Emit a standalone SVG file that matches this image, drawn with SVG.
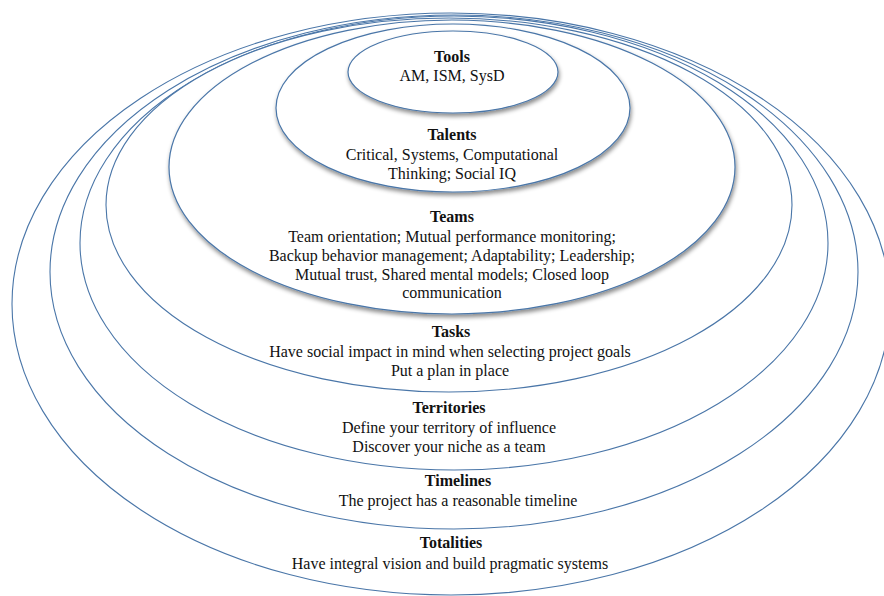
<svg xmlns="http://www.w3.org/2000/svg" width="884" height="596" viewBox="0 0 884 596">
  <defs>
    <filter id="shadow" x="-10%" y="-10%" width="120%" height="130%">
      <feDropShadow dx="1" dy="3" stdDeviation="2" flood-color="#000" flood-opacity="0.45"/>
    </filter>
  </defs>
  <style>
    .ring { fill: #fff; stroke: #4a76a8; stroke-width: 1.1; }
    .core { fill: #fff; stroke: #4a76a8; stroke-width: 1.2; filter: url(#shadow); }
    text { font-family: "Liberation Serif", "Times New Roman", serif; font-size: 16px; fill: #111; text-anchor: middle; }
    .title { font-weight: bold; }
  </style>
  <rect width="884" height="596" fill="#fff"/>

  <!-- outer rings, largest first -->
  <g id="totalities">
    <ellipse class="ring" cx="451" cy="304" rx="439" ry="291"/>
    <text class="title" x="451" y="548">Totalities</text>
    <text x="450" y="569">Have integral vision and build pragmatic systems</text>
  </g>
  <g id="timelines">
    <ellipse class="ring" cx="454" cy="272" rx="404" ry="257"/>
    <text class="title" x="458" y="486">Timelines</text>
    <text x="458" y="506">The project has a reasonable timeline</text>
  </g>
  <g id="territories">
    <ellipse class="ring" cx="454" cy="243" rx="374" ry="227"/>
    <text class="title" x="449" y="413">Territories</text>
    <text x="449" y="433">Define your territory of influence</text>
    <text x="449" y="452">Discover your niche as a team</text>
  </g>
  <g id="tasks">
    <ellipse class="ring" cx="449" cy="205" rx="343" ry="187"/>
    <text class="title" x="451" y="337">Tasks</text>
    <text x="450" y="357">Have social impact in mind when selecting project goals</text>
    <text x="450" y="376">Put a plan in place</text>
  </g>

  <!-- inner shaded rings -->
  <g id="teams">
    <ellipse class="core" cx="452" cy="167" rx="283" ry="147"/>
    <text class="title" x="452" y="222">Teams</text>
    <text x="452" y="242">Team orientation; Mutual performance monitoring;</text>
    <text x="452" y="261">Backup behavior management; Adaptability; Leadership;</text>
    <text x="452" y="280">Mutual trust, Shared mental models; Closed loop</text>
    <text x="452" y="298">communication</text>
  </g>
  <g id="talents">
    <ellipse class="core" cx="453" cy="108" rx="177" ry="84"/>
    <text class="title" x="452" y="140">Talents</text>
    <text x="452" y="160">Critical, Systems, Computational</text>
    <text x="452" y="179">Thinking; Social IQ</text>
  </g>
  <g id="tools">
    <ellipse class="core" cx="453" cy="72" rx="105" ry="41"/>
    <text class="title" x="452" y="62">Tools</text>
    <text x="452" y="81">AM, ISM, SysD</text>
  </g>

  <g id="connectors"/>
</svg>
